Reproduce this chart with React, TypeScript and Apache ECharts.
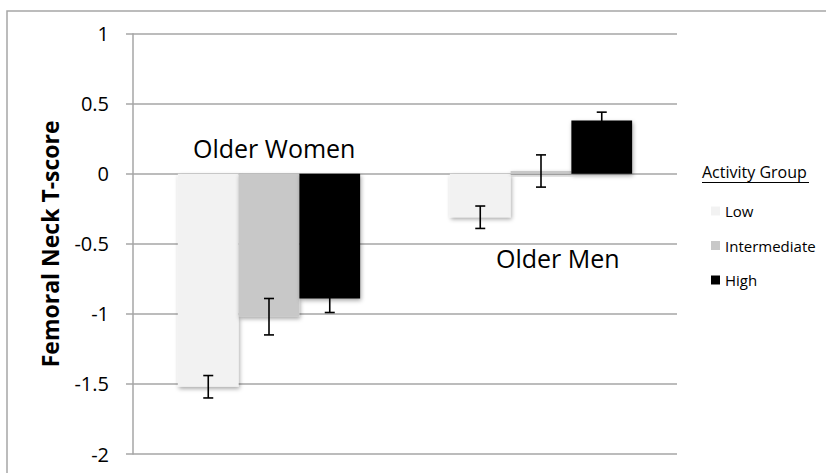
import React, { useEffect, useRef } from "react";
import * as echarts from "echarts";

const categories = ["Older Women", "Older Men"];
const groupNames = ["Low", "Intermediate", "High"];
const lowValues = [-1.52, -0.31];
const intermediateValues = [-1.02, 0.02];
const highValues = [-0.89, 0.38];
const lowErrors = [0.08, 0.08];
const intermediateErrors = [0.13, 0.115];
const highErrors = [0.1, 0.06];
const yTicks = { min: -2, max: 1, interval: 0.5 };

const colors = ["#f2f2f2", "#c8c8c8", "#000000"];
const FONT = "Open Sans";
const CAT_GAP = 0.33;

export default function App() {
  const ref = useRef<HTMLDivElement>(null);
  useEffect(() => {
    if (!ref.current) return;
    const chart = echarts.init(ref.current, undefined, { renderer: "svg" });
    const values = [lowValues, intermediateValues, highValues];
    const errors = [lowErrors, intermediateErrors, highErrors];

    const barSeries = groupNames.map((name, i) => ({
      name,
      type: "bar",
      data: values[i],
      barGap: "0%",
      barCategoryGap: CAT_GAP * 100 + "%",
      itemStyle: {
        color: colors[i],
        shadowColor: "rgba(0,0,0,0.35)",
        shadowBlur: 4,
        shadowOffsetX: 1,
        shadowOffsetY: 2,
      },
      z: 2,
    }));

    const errorSeries = groupNames.map((name, i) => ({
      name: name + " error",
      type: "custom",
      z: 5,
      silent: true,
      data: categories.map((_, j) => [j, values[i][j] - errors[i][j], values[i][j] + errors[i][j]]),
      renderItem: (params: any, api: any) => {
        const idx = api.value(0);
        const lo = api.coord([idx, api.value(1)]);
        const hi = api.coord([idx, api.value(2)]);
        const band = api.size([1, 0])[0];
        const bw = (band * (1 - CAT_GAP)) / 3;
        const x = lo[0] + (i - 1) * bw;
        const cap = 5;
        const style = { stroke: "#000", lineWidth: 1.6 };
        return {
          type: "group",
          children: [
            { type: "line", shape: { x1: x, y1: lo[1], x2: x, y2: hi[1] }, style },
            { type: "line", shape: { x1: x - cap, y1: lo[1], x2: x + cap, y2: lo[1] }, style },
            { type: "line", shape: { x1: x - cap, y1: hi[1], x2: x + cap, y2: hi[1] }, style },
          ],
        };
      },
    }));

    chart.setOption({
      animation: false,
      textStyle: { fontFamily: FONT },
      grid: { left: 133, top: 33.7, width: 544, height: 420.3, containLabel: false },
      legend: {
        data: groupNames,
        orient: "vertical",
        left: 706,
        top: 198,
        icon: "rect",
        itemWidth: 9,
        itemHeight: 9,
        itemGap: 18.5,
        textStyle: { fontFamily: FONT, fontSize: 15, color: "#000", lineHeight: 16 },
        selectedMode: false,
      },
      xAxis: {
        type: "category",
        data: categories,
        axisLine: { show: false },
        axisTick: { show: false },
        axisLabel: { show: false },
      },
      yAxis: {
        type: "value",
        min: yTicks.min,
        max: yTicks.max,
        interval: yTicks.interval,
        name: "Femoral Neck T-score",
        nameLocation: "middle",
        nameGap: 72,
        nameTextStyle: { fontFamily: FONT, fontSize: 23, fontWeight: "bold", color: "#000" },
        axisLine: { show: true, lineStyle: { color: "#a6a6a6", width: 1.5 } },
        axisTick: { show: true, length: 7, lineStyle: { color: "#a6a6a6", width: 1.5 } },
        splitLine: { show: true, lineStyle: { color: "#a6a6a6", width: 1.5 } },
        axisLabel: { fontFamily: FONT, fontSize: 20, color: "#000", margin: 24 },
      },
      graphic: [
        {
          type: "rect",
          shape: { x: 7, y: 11, width: 900, height: 600 },
          style: { fill: "none", stroke: "#a6a6a6", lineWidth: 1.5 },
          silent: true,
        },
        {
          type: "text",
          x: 193,
          y: 135,
          style: { text: categories[0], font: `25px "${FONT}"`, fill: "#000", textVerticalAlign: "top" },
        },
        {
          type: "text",
          x: 496,
          y: 245,
          style: { text: categories[1], font: `25px "${FONT}"`, fill: "#000", textVerticalAlign: "top" },
        },
        {
          type: "text",
          x: 702,
          y: 164,
          style: { text: "Activity Group", font: `16px "${FONT}"`, fill: "#000", textVerticalAlign: "top" },
        },
        {
          type: "line",
          shape: { x1: 702, y1: 182.5, x2: 809, y2: 182.5 },
          style: { stroke: "#000", lineWidth: 1 },
        },
      ],
      series: [...barSeries, ...errorSeries],
    });
    return () => chart.dispose();
  }, []);
  return (
    <div
      ref={ref}
      style={{ position: "fixed", left: 0, top: 0, width: 826, height: 473, background: "#fff" }}
    />
  );
}
